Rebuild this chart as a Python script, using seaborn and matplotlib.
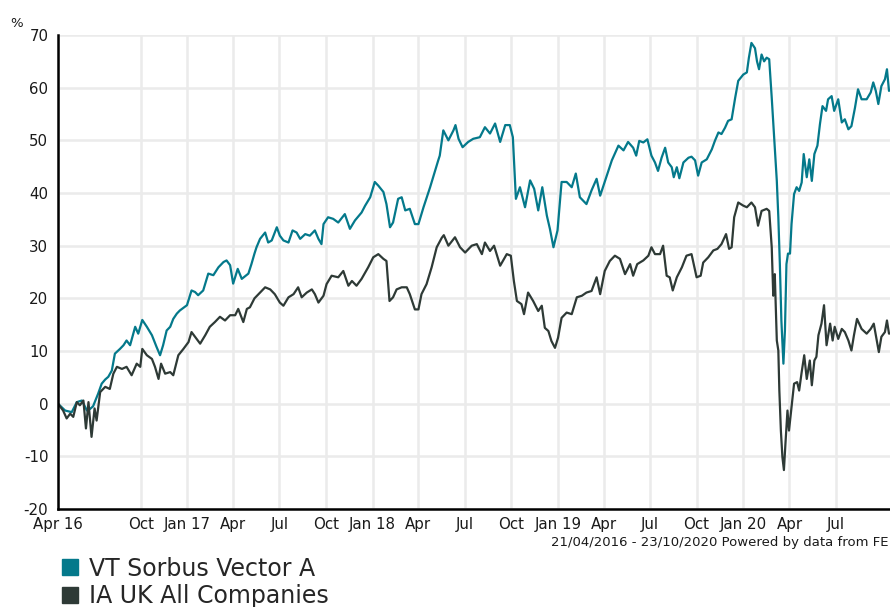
import pandas as pd
import matplotlib
matplotlib.use("Agg")
import matplotlib.pyplot as plt
from matplotlib.lines import Line2D
import seaborn as sns

# Données (jours depuis le 21/04/2016, performance en %)
start = pd.Timestamp("2016-04-21")
end = pd.Timestamp("2020-10-23")

vector_days = [0, 14, 27, 37, 47, 57, 63, 69, 79, 86, 93, 99, 106, 112, 122, 129, 135, 142,
               152, 158, 166, 175, 185, 194, 201, 207, 214, 221, 227, 234, 240, 254, 263, 270,
               276, 286, 296, 306, 316, 326, 332, 339, 345, 354, 362, 375, 381, 387, 391, 398,
               408, 414, 421, 431, 437, 444, 454, 462, 470, 477, 487, 496, 506, 513, 519, 523,
               532, 542, 552, 565, 575, 585, 598, 605, 615, 624, 631, 641, 647, 654, 660, 670,
               677, 684, 693, 703, 710, 720, 733, 743, 749, 752, 759, 769, 779, 783, 789, 797,
               808, 818, 831, 841, 851, 861, 871, 881, 890, 896, 902, 910, 920, 930, 938, 946,
               954, 963, 969, 976, 984, 992, 1002, 1012, 1020, 1028, 1041, 1051, 1061, 1068,
               1077, 1091, 1104, 1114, 1123, 1133, 1139, 1145, 1153, 1161, 1169, 1176, 1182,
               1189, 1196, 1202, 1209, 1213, 1219, 1224, 1232, 1242, 1248, 1255, 1261, 1268,
               1278, 1288, 1294, 1301, 1307, 1314, 1320, 1327, 1334, 1340, 1350, 1357, 1361,
               1366, 1373, 1377, 1381, 1386, 1391, 1396, 1401, 1406, 1410, 1412, 1416, 1419,
               1422, 1425, 1429, 1432, 1435, 1438, 1442, 1445, 1450, 1455, 1460, 1465, 1469,
               1475, 1480, 1485, 1490, 1496, 1501, 1506, 1513, 1517, 1524, 1529, 1537, 1544,
               1550, 1557, 1563, 1570, 1576, 1583, 1593, 1601, 1606, 1611, 1616, 1622, 1629,
               1633, 1637, 1646]
vector_pct = [0.0, -1.3, -1.6, 0.3, 0.6, -1.3, -1.0, -0.5, 1.9, 3.8, 4.6, 5.1, 6.3, 9.5, 10.4,
              11.1, 12.0, 11.1, 14.6, 13.3, 15.9, 14.6, 13.0, 10.8, 9.2, 11.1, 13.9, 14.6, 16.1,
              17.1, 17.7, 18.7, 21.5, 21.2, 20.6, 21.5, 24.7, 24.4, 25.9, 26.9, 27.2, 26.3, 22.8,
              25.6, 23.7, 24.7, 26.5, 28.5, 29.7, 31.3, 32.5, 30.6, 31.0, 33.5, 31.9, 31.0, 30.6,
              32.9, 32.5, 31.3, 32.2, 31.9, 32.9, 31.3, 30.3, 34.1, 35.4, 35.1, 34.4, 36.0, 33.2,
              34.8, 36.3, 37.6, 39.2, 42.1, 41.4, 40.2, 37.9, 33.5, 34.4, 38.9, 39.2, 36.7, 37.0,
              34.1, 34.1, 37.3, 41.1, 44.3, 46.2, 47.1, 51.9, 50.0, 51.9, 52.9, 50.3, 48.7, 49.7,
              50.3, 50.6, 52.5, 51.3, 53.2, 49.7, 52.9, 52.9, 50.6, 38.9, 41.1, 37.3, 42.4, 40.8,
              36.7, 41.1, 35.7, 33.2, 29.7, 32.9, 42.1, 42.1, 41.1, 43.7, 39.2, 37.9, 40.5, 42.7,
              39.5, 42.1, 46.2, 49.0, 48.1, 49.7, 48.6, 47.1, 49.9, 49.6, 50.2, 47.1, 45.8, 44.2,
              46.7, 48.6, 45.8, 44.9, 43.0, 44.9, 42.8, 45.8, 46.7, 46.9, 46.2, 43.3, 45.8, 46.4,
              48.3, 49.9, 51.5, 51.2, 52.4, 53.7, 54.0, 58.1, 61.3, 62.5, 62.9, 65.7, 68.5, 67.5,
              65.0, 63.5, 66.3, 65.0, 65.7, 65.4, 58.1, 51.8, 48.6, 42.3, 35.4, 26.5, 15.8, 7.6,
              13.9, 26.5, 28.5, 28.5, 34.1, 39.8, 41.1, 40.4, 42.0, 47.4, 43.0, 46.4, 42.3, 47.4,
              49.0, 53.1, 56.5, 55.6, 57.8, 58.4, 55.6, 57.8, 53.4, 54.0, 52.1, 52.7, 56.2, 59.7,
              57.8, 57.8, 59.1, 61.0, 59.4, 56.9, 60.3, 61.6, 63.5, 59.4, 60.0]

sector_days = [0, 10, 17, 24, 30, 37, 43, 50, 55, 60, 66, 72, 76, 83, 93, 102, 109, 116, 126,
               135, 145, 155, 162, 166, 175, 185, 191, 198, 203, 211, 221, 227, 237, 247, 257,
               263, 270, 280, 290, 299, 309, 319, 329, 339, 349, 355, 365, 372, 378, 387, 398,
               408, 418, 427, 437, 444, 454, 464, 473, 480, 490, 500, 506, 513, 523, 529, 539,
               552, 562, 572, 579, 588, 598, 611, 621, 631, 641, 647, 653, 660, 667, 677, 687,
               693, 703, 710, 716, 726, 736, 746, 756, 760, 769, 782, 792, 802, 815, 825, 835,
               841, 851, 859, 871, 884, 892, 898, 904, 913, 918, 926, 936, 946, 953, 959, 966,
               972, 979, 985, 992, 1002, 1012, 1022, 1032, 1041, 1051, 1061, 1068, 1077, 1087,
               1097, 1107, 1117, 1127, 1133, 1141, 1153, 1163, 1169, 1176, 1186, 1192, 1199,
               1205, 1211, 1219, 1229, 1238, 1248, 1258, 1266, 1271, 1281, 1291, 1299, 1307,
               1316, 1322, 1327, 1332, 1340, 1350, 1357, 1366, 1373, 1379, 1386, 1396, 1401,
               1406, 1409, 1412, 1416, 1419, 1421, 1424, 1427, 1430, 1433, 1437, 1440, 1445,
               1450, 1456, 1460, 1465, 1470, 1475, 1481, 1485, 1490, 1494, 1498, 1504, 1509,
               1514, 1521, 1526, 1530, 1537, 1544, 1550, 1557, 1563, 1568, 1574, 1583, 1593,
               1601, 1607, 1613, 1617, 1622, 1629, 1633, 1637, 1646]
sector_pct = [0.0, -1.3, -2.8, -1.9, -2.5, 0.3, -0.3, 0.6, -4.7, 0.3, -6.3, -0.9, -3.2, 2.2,
              3.2, 2.8, 5.7, 7.0, 6.6, 7.0, 5.4, 7.6, 7.0, 10.4, 9.2, 8.5, 7.0, 4.7, 7.6, 5.7,
              6.0, 5.4, 9.2, 10.4, 11.7, 13.6, 12.7, 11.4, 13.0, 14.6, 15.5, 16.5, 15.8, 16.8,
              16.8, 18.0, 15.5, 18.0, 18.3, 20.0, 21.1, 22.1, 21.7, 20.8, 19.2, 18.6, 20.2, 20.8,
              22.1, 20.2, 21.1, 21.7, 20.8, 19.2, 20.5, 22.7, 24.3, 24.0, 25.2, 22.4, 23.3, 22.4,
              23.7, 25.9, 27.8, 28.4, 27.5, 27.1, 19.5, 20.2, 21.7, 22.1, 22.1, 20.8, 17.9, 17.9,
              20.8, 22.7, 25.9, 29.7, 31.5, 32.0, 30.0, 31.6, 29.7, 28.7, 30.0, 30.3, 28.4, 30.6,
              29.0, 30.0, 26.2, 28.4, 28.1, 23.3, 19.5, 18.9, 17.0, 21.1, 19.5, 17.6, 18.6, 14.4,
              13.8, 11.9, 10.6, 12.5, 16.3, 17.3, 17.0, 20.2, 20.5, 21.1, 21.4, 24.0, 20.8, 25.2,
              27.1, 28.1, 27.5, 24.6, 26.5, 24.3, 26.5, 27.2, 28.1, 29.7, 28.4, 28.4, 30.0, 24.3,
              24.0, 21.5, 24.0, 25.9, 28.1, 28.4, 24.0, 24.3, 26.8, 27.8, 29.1, 29.4, 30.3, 32.2,
              29.4, 29.7, 35.4, 38.2, 37.6, 37.3, 38.2, 37.3, 33.8, 36.6, 37.0, 36.6, 29.7, 20.5,
              24.6, 12.0, 10.1, 2.5, -5.1, -10.1, -12.6, -7.6, -1.3, -5.1, -0.6, 3.8, 4.1, 2.5,
              6.0, 9.2, 4.7, 8.2, 3.5, 8.2, 8.9, 13.0, 15.2, 18.7, 11.1, 15.2, 12.0, 14.6, 12.3,
              14.2, 13.6, 12.0, 10.1, 13.0, 16.1, 14.2, 13.3, 14.2, 15.2, 12.0, 9.8, 12.7, 13.6,
              15.8, 13.3, 13.5]

series_names = ["VT Sorbus Vector A", "IA UK All Companies"]
series_colors = ["#04798B", "#2E3A36"]

tick_dates = ["2016-04-21", "2016-10-01", "2017-01-01", "2017-04-01", "2017-07-01",
              "2017-10-01", "2018-01-01", "2018-04-01", "2018-07-01", "2018-10-01",
              "2019-01-01", "2019-04-01", "2019-07-01", "2019-10-01", "2020-01-01",
              "2020-04-01", "2020-07-01"]
tick_labels = ["Apr 16", "Oct", "Jan 17", "Apr", "Jul", "Oct", "Jan 18", "Apr", "Jul", "Oct",
               "Jan 19", "Apr", "Jul", "Oct", "Jan 20", "Apr", "Jul"]

df_vector = pd.DataFrame({"date": start + pd.to_timedelta(vector_days, unit="D"),
                          "pct": vector_pct})
df_sector = pd.DataFrame({"date": start + pd.to_timedelta(sector_days, unit="D"),
                          "pct": sector_pct})

sns.set_style("white")
plt.rcParams["font.family"] = ["DejaVu Sans"]
plt.rcParams["axes.unicode_minus"] = False

fig = plt.figure(figsize=(8.9, 6.07), dpi=100)
ax = fig.add_axes([0.0652, 0.1614, 0.9388, 0.7809])

sns.lineplot(data=df_vector, x="date", y="pct", color=series_colors[0], linewidth=1.6, ax=ax)
sns.lineplot(data=df_sector, x="date", y="pct", color=series_colors[1], linewidth=1.6, ax=ax)

ax.set_xlim(start, end)
ax.set_ylim(-20, 70)
ax.set_yticks(range(-20, 71, 10))
ax.set_xticks(pd.to_datetime(tick_dates))
ax.set_xticklabels(tick_labels)
ax.set_xlabel("")
ax.set_ylabel("")

ax.grid(True, color="#EBEBEB", linewidth=1.8)
ax.set_axisbelow(True)
for s in ["top", "right"]:
    ax.spines[s].set_visible(False)
for s in ["left", "bottom"]:
    ax.spines[s].set_color("black")
    ax.spines[s].set_linewidth(1.8)
ax.tick_params(axis="both", direction="out", length=4, width=1.5, color="black",
               labelsize=10.8, labelcolor="#1a1a1a", pad=2)
ax.tick_params(axis="y", pad=3)

fig.text(0.011, 0.955, "%", fontsize=9.5, color="#1a1a1a")
fig.text(0.9985, 0.101, "21/04/2016 - 23/10/2020 Powered by data from FE", fontsize=9.5,
         color="#1a1a1a", ha="right")

handles = [Line2D([], [], marker="s", linestyle="", markersize=11, color=c) for c in series_colors]
fig.legend(handles, series_names, loc="upper left", bbox_to_anchor=(0.065, 0.083),
           frameon=False, fontsize=17, handletextpad=0.3, labelspacing=0.15,
           borderpad=0, handlelength=1.0, borderaxespad=0)

plt.savefig("out.png", dpi=100)
